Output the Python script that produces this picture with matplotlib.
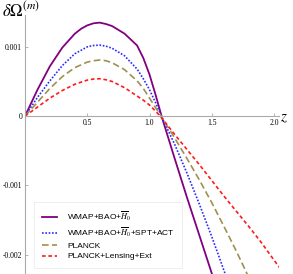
import matplotlib
matplotlib.use("Agg")
import matplotlib.pyplot as plt
import numpy as np

# redshift grid and curves (values in units of 1e-3)
z_purple = [0, 0.1, 0.2, 0.3, 0.4, 0.45, 0.5, 0.55, 0.6, 0.65, 0.7, 0.8, 0.9, 0.95, 1.0, 1.05, 1.1, 1.2, 1.3, 1.4, 1.5, 1.52]
v_purple = [0, 0.38, 0.72, 0.99, 1.19, 1.26, 1.31, 1.34, 1.35, 1.33, 1.30, 1.19, 1.02, 0.84, 0.60, 0.30, -0.02, -0.60, -1.17, -1.72, -2.27, -2.39]

z_blue = [0, 0.1, 0.2, 0.3, 0.4, 0.5, 0.55, 0.6, 0.65, 0.7, 0.8, 0.9, 0.95, 1.0, 1.05, 1.1, 1.2, 1.3, 1.4, 1.5, 1.6, 1.65]
v_blue = [0, 0.27, 0.51, 0.73, 0.90, 1.00, 1.02, 1.025, 1.01, 0.98, 0.87, 0.68, 0.54, 0.38, 0.19, -0.02, -0.40, -0.82, -1.27, -1.74, -2.24, -2.48]

z_tan = [0, 0.1, 0.2, 0.3, 0.4, 0.5, 0.55, 0.6, 0.65, 0.7, 0.8, 0.9, 0.95, 1.0, 1.05, 1.1, 1.2, 1.3, 1.4, 1.5, 1.6, 1.7, 1.8]
v_tan = [0, 0.20, 0.40, 0.57, 0.70, 0.78, 0.80, 0.81, 0.80, 0.77, 0.67, 0.51, 0.40, 0.26, 0.12, -0.02, -0.31, -0.61, -0.92, -1.25, -1.60, -1.96, -2.34]

z_red = [0, 0.1, 0.2, 0.3, 0.4, 0.5, 0.55, 0.6, 0.65, 0.7, 0.8, 0.9, 0.95, 1.0, 1.05, 1.1, 1.2, 1.3, 1.4, 1.5, 1.6, 1.7, 1.8, 1.9, 2.0, 2.05]
v_red = [0, 0.13, 0.26, 0.37, 0.46, 0.52, 0.535, 0.54, 0.525, 0.50, 0.41, 0.29, 0.23, 0.16, 0.07, -0.03, -0.26, -0.48, -0.70, -0.93, -1.16, -1.38, -1.60, -1.83, -2.08, -2.20]

labels = [r'WMAP+BAO+$\overline{H}_0$',
          r'WMAP+BAO+$\overline{H}_0$+SPT+ACT',
          'PLANCK',
          'PLANCK+Lensing+Ext']

xticks = [0.5, 1.0, 1.5, 2.0]
yticks = [-0.002, -0.001, 0, 0.001]
yticklabels = ['-0.002', '-0.001', '0', '0.001']

plt.rcParams['mathtext.fontset'] = 'stix'

fig = plt.figure(figsize=(2.93, 2.74), dpi=100)
ax = fig.add_axes([25/293, 0, 254/293, 259/274])

ax.plot(z_purple, np.array(v_purple)*1e-3, color='#800080', lw=1.3, label=labels[0])
ax.plot(z_blue, np.array(v_blue)*1e-3, color='#2a2aff', lw=1.2, ls=(0, (1, 1)), label=labels[1])
ax.plot(z_tan, np.array(v_tan)*1e-3, color='#a0904f', lw=1.2, ls=(0, (4, 2)), label=labels[2])
ax.plot(z_red, np.array(v_red)*1e-3, color='#ff1a1a', lw=1.2, ls=(0, (2.2, 1.6)), label=labels[3])

ax.set_xlim(0, 2.04)
ax.set_ylim(-0.00228, 0.00146)

for s in ['top', 'right']:
    ax.spines[s].set_visible(False)
ax.spines['bottom'].set_position(('data', 0))
for s in ['left', 'bottom']:
    ax.spines[s].set_color('#aaaaaa')
    ax.spines[s].set_linewidth(0.8)

ax.set_xticks(xticks)
ax.set_xticklabels([f'{t:.1f}' for t in xticks], fontfamily='Liberation Serif', fontsize=5.5)
ax.set_yticks(yticks)
ax.set_yticklabels(yticklabels, fontfamily='Liberation Serif', fontsize=5.5)
ax.tick_params(direction='in', length=2.5, width=0.6, color='#aaaaaa', pad=2)
ax.patch.set_visible(False)

fig.text(2/293, 1 - 17/274, r'$\delta\Omega^{(m)}$', fontsize=12, va='baseline', ha='left')
fig.text(280/293, 1 - 121/274, r'$z$', fontsize=11, va='baseline', ha='left')

leg = ax.legend(loc='upper left', bbox_to_anchor=(34/293, 1 - 202/274),
                bbox_transform=fig.transFigure, fontsize=6, frameon=True,
                fancybox=False, handlelength=1.9, handletextpad=1.2,
                labelspacing=0.35, borderpad=0.9, borderaxespad=0)
leg.get_frame().set_edgecolor('#e6e6e6')
leg.get_frame().set_linewidth(0.6)
for t in leg.get_texts():
    t.set_fontfamily('Liberation Sans')

fig.savefig('out.png', dpi=100)
